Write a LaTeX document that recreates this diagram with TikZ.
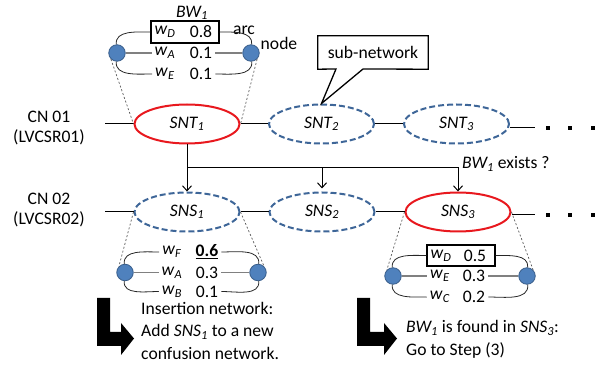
\documentclass[tikz,border=0pt]{standalone}
\usepackage{fontspec}
\setmainfont{Carlito}
\usetikzlibrary{shapes.geometric,arrows.meta}
\definecolor{netblue}{RGB}{62,102,152}
\definecolor{hitred}{RGB}{232,24,30}
\definecolor{nodefill}{RGB}{79,129,189}
\definecolor{nodeedge}{RGB}{56,93,138}
\newcommand{\wsub}[1]{\textit{w}\textsubscript{\textit{#1}}}
\newcommand{\itsub}[2]{\textit{#1\textsubscript{#2}}}
\begin{document}
\begin{tikzpicture}[x=1pt,y=1pt,
  every node/.style={font=\fontsize{17.6}{20}\selectfont},
  subnet/.style={ellipse, draw=netblue, line width=2pt, dash pattern=on 6pt off 3pt,
    minimum width=105pt, minimum height=39pt, inner sep=0pt},
  hitnet/.style={ellipse, draw=hitred, line width=2pt,
    minimum width=105pt, minimum height=39pt, inner sep=0pt},
  wnode/.style={circle, fill=nodefill, draw=nodeedge, line width=0.8pt,
    minimum size=16.5pt, inner sep=0pt},
  cell/.style={inner sep=3pt},
  wbox/.style={draw, line width=1.1pt, minimum width=68pt, minimum height=22pt, inner sep=0pt},
  link/.style={line width=1pt},
  arcline/.style={line width=0.8pt, black!85},
  midline/.style={line width=1.4pt, black!50},
  zoomline/.style={line width=0.7pt, black!65, dash pattern=on 2pt off 2pt},
  flow/.style={line width=1pt, -{Straight Barb[length=5pt,width=9pt]}},
  multi/.style={align=left, font=\fontsize{17.6}{22.5}\selectfont, inner sep=0pt},
]
\useasboundingbox (0,0) rectangle (606,378);

% ---------- confusion network CN 01 ----------
\node[align=center] (cn1) at (49,250) {CN 01\\(LVCSR01)};
\node[hitnet] (snt1) at (187,254) {\itsub{SNT}{1}};
\node[subnet] (snt2) at (321.5,254) {\itsub{SNT}{2}};
\node[subnet] (snt3) at (456.5,254) {\itsub{SNT}{3}};
\coordinate (l1) at (105,254);
\coordinate (r1) at (535,250);
\draw[link] (l1) -- (snt1.west);
\draw[link] (snt1.east) -- (snt2.west);
\draw[link] (snt2.east) -- (snt3.west);
\draw[link] (r1 -| snt3.east) -- (r1);
\foreach \dx in {548,570,593} \fill (\dx-1.8,248.2) rectangle +(3.6,3.6);

% ---------- confusion network CN 02 ----------
\node[align=center] (cn2) at (49,167.5) {CN 02\\(LVCSR02)};
\node[subnet] (sns1) at (187,166) {\itsub{SNS}{1}};
\node[subnet] (sns2) at (322,166) {\itsub{SNS}{2}};
\node[hitnet] (sns3) at (458,166) {\itsub{SNS}{3}};
\coordinate (l2) at (105,166);
\coordinate (r2) at (535,163);
\draw[link] (l2) -- (sns1.west);
\draw[link] (sns1.east) -- (sns2.west);
\draw[link] (sns2.east) -- (sns3.west);
\draw[link] (r2 -| sns3.east) -- (r2);
\foreach \dx in {548,570,593} \fill (\dx-1.8,161.2) rectangle +(3.6,3.6);

% ---------- search for BW1 ----------
\coordinate (j) at (187,210);
\draw[flow] (snt1.south) -- (sns1.north);
\draw[flow] (j) -| (sns3.north);
\draw[flow, shorten >=3pt] (sns2.north |- j) -- (sns2.north);
\node[anchor=west, inner sep=0pt] (ask) at (462,214) {\itsub{BW}{1} exists ?};

% ---------- callout ----------
\node[minimum width=110pt, minimum height=33pt, inner sep=0pt] (cb) at (373,325.5) {};
\draw[line width=1.3pt, fill=white] (cb.north west) -- (cb.north east) -- (cb.south east)
  -- (363,309) -- (snt2.north) -- (336,309) -- (cb.south west) -- cycle;
\node (cbt) at (cb) {sub-network};

% ---------- detail of SNT1 ----------
\node[wnode] (n1) at (117,325) {};
\node[wnode] (n2) at (251,325) {};
\node[wbox] (bw) at (185,346) {};
\node[cell] (wD) at (165,346) {\wsub{D}};
\node[cell] (numD) at (201,346) {0.8};
\node[cell] (wA) at (165,325) {\wsub{A}};
\node[cell] (numA) at (201,325) {0.1};
\node[cell] (wE) at (165,304) {\wsub{E}};
\node[cell] (numE) at (201,304) {0.1};
\node (bwl) at (192,365) {\itsub{BW}{1}};
\node (arcl) at (244,348) {arc};
\node (nodel) at (279,335) {node};
\draw[arcline] (n1) to[out=95,in=180] (bw.west);
\draw[arcline] (bw.east) to[out=0,in=85] (n2);
\draw[midline] (n1) -- (wA);
\draw[midline] (numA) -- (n2);
\draw[arcline] (n1) to[out=-95,in=180] (wE.west);
\draw[arcline] (numE.east) to[out=0,in=-85] (n2);
\draw[zoomline] (n1.south west) -- (snt1.west);
\draw[zoomline] (n2.south east) -- (snt1.east);

% ---------- detail of SNS1 ----------
\node[wnode] (m1) at (125,105.5) {};
\node[wnode] (m2) at (258,105.5) {};
\node[cell] (wF) at (172,126) {\wsub{F}};
\node[cell] (numF) at (207,126) {\textbf{\underline{0.6}}};
\node[cell] (wA2) at (172,105.5) {\wsub{A}};
\node[cell] (numA2) at (207,105.5) {0.3};
\node[cell] (wB) at (172,86.5) {\wsub{B}};
\node[cell] (numB) at (207,86.5) {0.1};
\draw[arcline] (m1) to[out=95,in=180] (wF.west);
\draw[arcline] (numF.east) to[out=0,in=85] (m2);
\draw[midline] (m1) -- (wA2);
\draw[midline] (numA2) -- (m2);
\draw[arcline] (m1) to[out=-95,in=180] (wB.west);
\draw[arcline] (numB.east) to[out=0,in=-85] (m2);
\draw[zoomline] (sns1.west) -- (m1.north west);
\draw[zoomline] (sns1.east) -- (m2.north east);

% ---------- detail of SNS3 ----------
\node[wnode] (k1) at (393,102) {};
\node[wnode] (k2) at (527,102) {};
\node[wbox, minimum height=21pt] (bw3) at (461,122.5) {};
\node[cell] (wD3) at (441,122.5) {\wsub{D}};
\node[cell] (numD3) at (475,122.5) {0.5};
\node[cell] (wE3) at (440,102) {\wsub{E}};
\node[cell] (numE3) at (474,102) {0.3};
\node[cell] (wC3) at (440,81) {\wsub{C}};
\node[cell] (numC3) at (474,81) {0.2};
\draw[arcline] (k1) to[out=95,in=180] (bw3.west);
\draw[arcline] (bw3.east) to[out=0,in=85] (k2);
\draw[midline] (k1) -- (wE3);
\draw[midline] (numE3) -- (k2);
\draw[arcline] (k1) to[out=-95,in=180] (wC3.west);
\draw[arcline] (numC3.east) to[out=0,in=-85] (k2);
\draw[zoomline] (sns3.west) -- (k1.north west);
\draw[zoomline] (sns3.east) -- (k2.north east);

% ---------- outcomes ----------
\fill (97,80) -- (110,80) -- (110,46) -- (121,46) -- (121,55) -- (134,39.5)
  -- (121,23) -- (121,32) -- (97,32) -- cycle;
\node[multi, anchor=west] (ins) at (141,47.5)
  {Insertion network:\\Add \itsub{SNS}{1} to a new\\confusion network.};
\fill (357,80) -- (370,80) -- (370,46) -- (384,46) -- (384,55) -- (397,39.5)
  -- (384,23) -- (384,32) -- (357,32) -- cycle;
\node[multi, anchor=west] (found) at (406,38.5)
  {\itsub{BW}{1} is found in \itsub{SNS}{3}:\\Go to Step (3)};
\end{tikzpicture}
\end{document}
